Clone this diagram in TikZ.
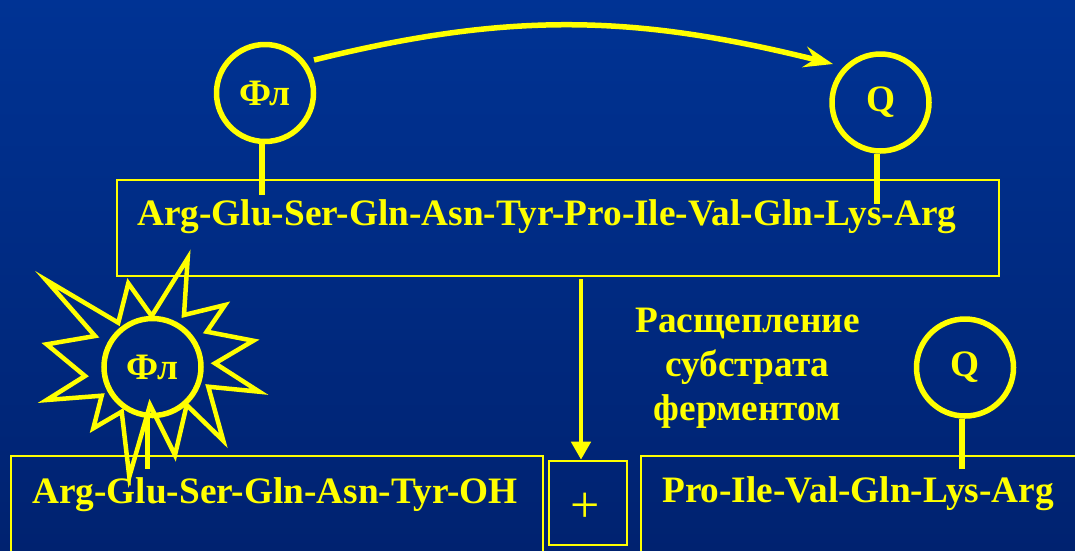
\documentclass[tikz,border=0pt]{standalone}
\usepackage{fontspec}
\setmainfont{Liberation Serif}
\usetikzlibrary{arrows.meta,calc}
\definecolor{ink}{RGB}{255,255,0}
\definecolor{bgtop}{RGB}{0,51,148}
\definecolor{bgbot}{RGB}{0,34,112}
\newcommand{\labelfont}{\bfseries\fontsize{37.3}{44}\selectfont}
\begin{document}
\begin{tikzpicture}[x=1pt,y=-1pt,
  lbl/.style={text=ink,font=\labelfont,inner sep=0pt},
  ring/.style={circle,draw=ink,line width=5.5pt,minimum size=97pt,inner sep=0pt,
               text=ink,font=\labelfont},
  frame/.style={draw=ink,line width=2.6pt,rectangle,inner sep=0pt},
  stem/.style={draw=ink,line width=5.5pt},
  flow/.style={draw=ink,line width=5.5pt,
               -{Stealth[length=29pt,width=21pt,inset=10pt]}},
  drop/.style={draw=ink,line width=4.5pt,
               -{Triangle[length=18pt,width=19pt]}},
  burst/.style={draw=ink,line width=4.5pt,line join=miter}]

% background
\useasboundingbox (0,0) rectangle (1075,550);
\shade[top color=bgtop,bottom color=bgbot] (0,0) rectangle (1075,550);
\clip (0,0) rectangle (1075,550);

% substrate and its two fragments
\node[frame,minimum width=882pt,minimum height=96pt] (substrate) at (558,228) {};
\node[frame,minimum width=532pt,minimum height=144pt] (leftpart) at (277,528) {};
\node[frame,minimum width=78pt,minimum height=84pt] (plus) at (588,503) {};
\node[frame,minimum width=478pt,minimum height=144pt] (rightpart) at (880,528) {};

\node[lbl,anchor=base west] (seq) at (137,225)
  {Arg-Glu-Ser-Gln-Asn-Tyr-Pro-Ile-Val-Gln-Lys-Arg};
\node[lbl,anchor=base west] (seqleft) at (32,503) {Arg-Glu-Ser-Gln-Asn-Tyr-OH};
\node[lbl,anchor=base west] (seqright) at (662,502) {Pro-Ile-Val-Gln-Lys-Arg};
\node[text=ink,font=\fontsize{52}{52}\selectfont,inner sep=0pt] (plussign) at (585,508) {+};

% caption of the cleavage step
\node[lbl,anchor=base] (cap1) at (747.5,332) {Расщепление};
\node[lbl,anchor=base] (cap2) at (747.5,376) {субстрата};
\node[lbl,anchor=base] (cap3) at (747.5,420) {ферментом};

% glowing fluorophore burst
\draw[burst] (187.7,258.3) -- (184,315) -- (225,305) -- (206.7,331.7)
  -- (253.3,340.7) -- (215,363.3) -- (259.3,391.7) -- (208.3,386.7)
  -- (223.3,440.7) -- (186.7,405) -- (175,455) -- (150,405)
  -- (129.3,476.7) -- (121.7,411.7) -- (93.3,428.3) -- (101.7,395.7)
  -- (46.7,400) -- (85,376) -- (46.7,344.3) -- (95,336)
  -- (46,280) -- (118.3,322.7) -- (128.3,283.3) -- (151.7,316) -- cycle;

% fluorophore and quencher labels
\node[ring] (fl1) at (265,93) {Фл};
\node[ring] (q1) at (880.5,102.5) {Q};
\node[ring] (fl2) at (152.5,367) {Фл};
\node[ring] (q2) at (965,367.5) {Q};

\draw[stem] (fl1.south) ++(-3,0) -- +(0,51);
\draw[stem] (q1.south) ++(-3.5,0) -- +(0,50);
\draw[stem] (fl2.south) ++(-5,-2) -- +(0,53);
\draw[stem] (q2.south) ++(-3,0) -- +(0,50);

% energy transfer arc
\draw[flow] ($(fl1.center)+(49,-33)$)
  .. controls +(197,-49) and +(-197,-49) .. ($(q1.center)+(-47.5,-38.5)$);

% cleavage arrow
\coordinate (cut) at (581,279);
\draw[drop] (cut) -- (cut |- plus.north);
\end{tikzpicture}
\end{document}
